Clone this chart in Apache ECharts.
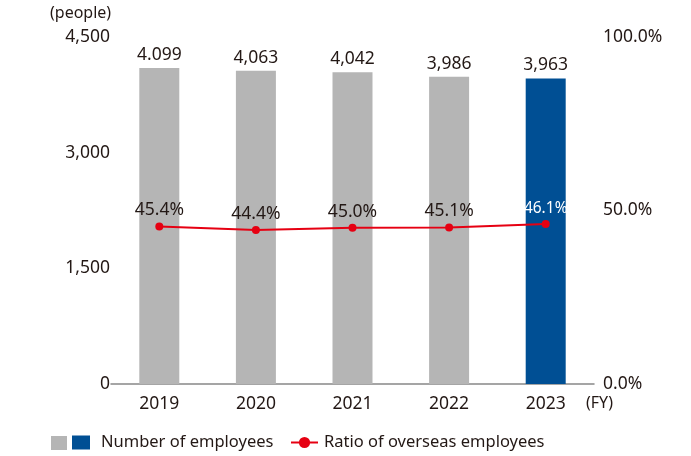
<!DOCTYPE html>
<html>
<head>
<meta charset="utf-8">
<script src="https://cdn.jsdelivr.net/npm/echarts@6/dist/echarts.min.js"></script>
<style>html,body{margin:0;padding:0;background:#fff}#c{width:691px;height:456px}</style>
</head>
<body>
<div id="c"></div>
<script>
const years = ['2019', '2020', '2021', '2022', '2023'];
const employees = [4099, 4063, 4042, 3986, 3963];
const employeeLabels = ['4.099', '4,063', '4,042', '3,986', '3,963'];
const overseasRatio = [45.4, 44.4, 45.0, 45.1, 46.1];
const leftTicks = [0, 1500, 3000, 4500];
const rightTicks = [0, 50, 100];

const FONT = '"Noto Sans", sans-serif';
const TXT = '#231815';
const GRAY = '#b5b5b5';
const BLUE = '#004f94';
const RED = '#e60012';

const chart = echarts.init(document.getElementById('c'), null, {renderer: 'canvas'});
chart.setOption({
  animation: false,
  textStyle: {fontFamily: FONT},
  grid: {left: 111, right: 97, top: 37, bottom: 72},
  legend: [
    {
      left: 72, top: 434, padding: 0,
      textStyle: {fontFamily: FONT, fontSize: 16.5, color: TXT, padding: [0, 0, 0, 6]},
      data: [{name: 'Number of employees', icon: 'rect', itemStyle: {color: BLUE}}],
      itemWidth: 18, itemHeight: 14
    },
    {
      left: 290, top: 434, padding: 0,
      textStyle: {fontFamily: FONT, fontSize: 16.5, color: TXT, padding: [0, 0, 0, 1]},
      data: [{name: 'Ratio of overseas employees'}],
      itemWidth: 27, itemHeight: 14
    }
  ],
  graphic: [
    {type: 'rect', left: 51, top: 436, shape: {width: 16, height: 14}, style: {fill: GRAY}},
    {type: 'text', left: 50, top: 5, style: {text: '(people)', fontFamily: FONT, fontSize: 16, fill: TXT}},
    {type: 'text', left: 586, top: 395, style: {text: '(FY)', fontFamily: FONT, fontSize: 16, fill: TXT}}
  ],
  xAxis: {
    type: 'category',
    data: years,
    axisLine: {lineStyle: {color: '#888', width: 1.5}},
    axisTick: {show: false},
    axisLabel: {fontFamily: FONT, fontSize: 17.5, color: TXT, margin: 11}
  },
  yAxis: [
    {
      type: 'value', min: 0, max: 4500, interval: 1500,
      splitLine: {show: false},
      axisLine: {show: false}, axisTick: {show: false},
      axisLabel: {
        fontFamily: FONT, fontSize: 17.5, color: TXT, margin: 1,
        formatter: v => leftTicks.includes(v) ? v.toLocaleString('en-US') : ''
      }
    },
    {
      type: 'value', min: 0, max: 100, interval: 50,
      splitLine: {show: false},
      axisLine: {show: false}, axisTick: {show: false},
      axisLabel: {
        fontFamily: FONT, fontSize: 17.5, color: TXT, margin: 9,
        formatter: v => rightTicks.includes(v) ? v.toFixed(1) + '%' : ''
      }
    }
  ],
  series: [
    {
      name: 'Number of employees',
      type: 'bar',
      barWidth: 40,
      data: employees.map((v, i) => ({
        value: v,
        itemStyle: {color: i === employees.length - 1 ? BLUE : GRAY}
      })),
      label: {
        show: true, position: 'top', distance: 4,
        fontFamily: FONT, fontSize: 17.5, color: TXT,
        formatter: p => employeeLabels[p.dataIndex]
      }
    },
    {
      name: 'Ratio of overseas employees',
      type: 'line',
      yAxisIndex: 1,
      data: overseasRatio.map((v, i) => ({
        value: v,
        label: i === overseasRatio.length - 1 ? {color: '#fff', fontSize: 15.5} : undefined
      })),
      symbol: 'circle', symbolSize: 8,
      lineStyle: {color: RED, width: 2},
      itemStyle: {color: RED},
      label: {
        show: true, position: 'top', distance: 3,
        fontFamily: FONT, fontSize: 17.5, color: TXT,
        formatter: p => p.value.toFixed(1) + '%'
      }
    }
  ]
});
</script>
</body>
</html>
